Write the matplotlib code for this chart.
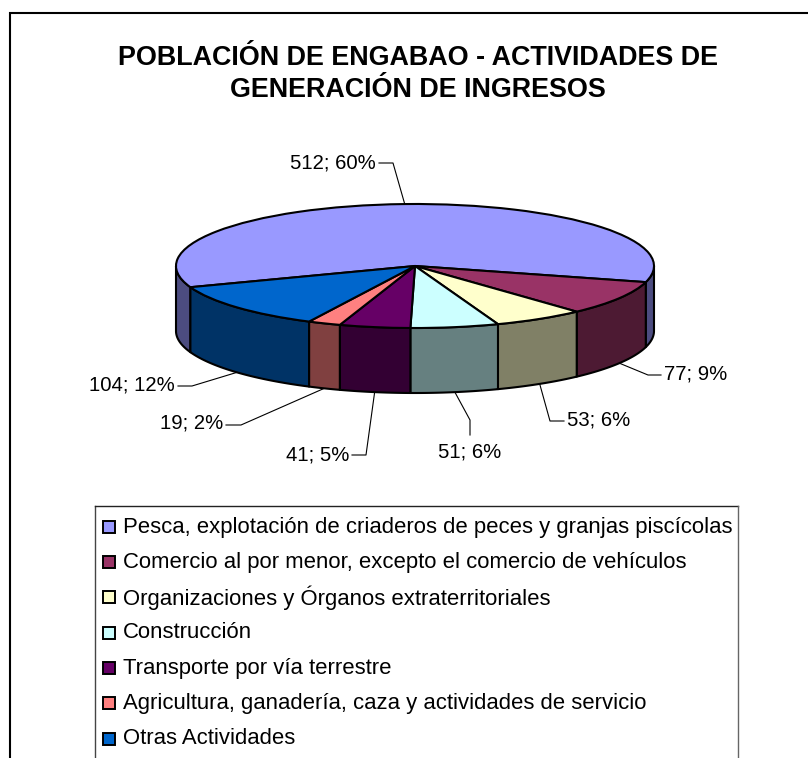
import numpy as np
import matplotlib
matplotlib.use("Agg")
import matplotlib.pyplot as plt
from matplotlib.patches import Rectangle

title_text = "POBLACIÓN DE ENGABAO - ACTIVIDADES DE\nGENERACIÓN DE INGRESOS"
categories = [
    "Pesca, explotación de criaderos de peces y granjas piscícolas",
    "Comercio al por menor, excepto el comercio de vehículos",
    "Organizaciones y Órganos extraterritoriales",
    "Construcción",
    "Transporte por vía terrestre",
    "Agricultura, ganadería, caza y actividades de servicio",
    "Otras Actividades",
]
values = [512, 77, 53, 51, 41, 19, 104]
percents = [60, 9, 6, 6, 5, 2, 12]
top_colors = ["#9999FF", "#993366", "#FFFFCC", "#CCFFFF", "#660066", "#FF8080", "#0066CC"]
side_colors = ["#4C4C80", "#4D1A33", "#808066", "#668080", "#330033", "#804040", "#003366"]

W, H = 808, 758
CX, CY, RX, RY, DEPTH = 415, 266, 239, 62, 65
START = 200  # degrees, counter-clockwise from +x, slices run clockwise
FONT = ["Liberation Sans", "DejaVu Sans"]

# layout of the data-label leaders: (elbow points, text anchor x, text y, ha)
leader_layout = [
    ([(393, 163), (379, 163)], 376, 163, "right"),
    ([(648, 375), (661, 375)], 664, 374, "left"),
    ([(550, 421), (564, 421)], 567, 420, "left"),
    ([(470, 420), (470, 435)], 470, 452, "center"),
    ([(366, 455), (352, 455)], 349, 455, "right"),
    ([(241, 425), (226, 425)], 223, 423, "right"),
    ([(192, 386), (178, 386)], 175, 385, "right"),
]

fig = plt.figure(figsize=(W / 100, H / 100), dpi=100)
bg = fig.add_axes([0, 0, 1, 1])
bg.set_xlim(0, W)
bg.set_ylim(H, 0)
bg.axis("off")

# chart frame: open on the right and at the bottom, where the picture crops it
bg.plot([10, 10, W], [H, 13, 13], color="black", lw=1.5, solid_joinstyle="miter", zorder=1)

# pie axes: unit circle maps to the flattened ellipse
pie_ax = fig.add_axes([(CX - RX) / W, 1 - (CY + RY) / H, 2 * RX / W, 2 * RY / H])
pie_ax.patch.set_alpha(0)

fractions = np.array(values, dtype=float) / sum(values)
edges = START - np.concatenate([[0], np.cumsum(fractions) * 360])
dz = DEPTH / RY

# sides (only the part of the rim that faces the viewer)
for i, (a0, a1) in enumerate(zip(edges[:-1], edges[1:])):
    for shift in (0, 360, -360):
        hi = min(a0 + shift, 360)
        lo = max(a1 + shift, 180)
        if hi <= lo:
            continue
        t = np.radians(np.linspace(lo, hi, 80))
        xs = np.cos(t)
        ys = np.sin(t)
        pie_ax.fill(np.r_[xs, xs[::-1]], np.r_[ys, ys[::-1] - dz],
                    facecolor=side_colors[i], edgecolor="black", lw=1.5,
                    joinstyle="round", clip_on=False, zorder=1)

wedges, _ = pie_ax.pie(values, colors=top_colors, startangle=START, counterclock=False,
                       radius=1, wedgeprops=dict(edgecolor="black", lw=1.5, joinstyle="round"))
for w in wedges:
    w.set_clip_on(False)
    w.set_zorder(2)
pie_ax.set_aspect("auto")
pie_ax.set_xlim(-1, 1)
pie_ax.set_ylim(-1, 1)
pie_ax.axis("off")

# title
bg.text(417.5, 74, title_text, ha="center", va="center", fontsize=19.4, fontweight="bold",
        family=FONT, color="black", linespacing=1.33, zorder=5)

# data labels with leaders
mids = (edges[:-1] + edges[1:]) / 2
for i, (pts, tx, ty, ha) in enumerate(leader_layout):
    m = np.radians(mids[i])
    sx = CX + RX * np.cos(m)
    sy = CY - RY * np.sin(m) + (DEPTH if np.sin(m) < 0 else 0)
    px = [sx] + [p[0] for p in pts]
    py = [sy] + [p[1] for p in pts]
    bg.plot(px, py, color="black", lw=0.8, zorder=6)
    bg.text(tx, ty, f"{values[i]}; {percents[i]}%", ha=ha, va="center",
            fontsize=14.6, family=FONT, color="black", zorder=6)

# legend
bg.plot([95, 95], [H, 506], color="#444444", lw=1, zorder=3)
bg.plot([95, 738], [506, 506], color="#222222", lw=1, zorder=3)
bg.plot([738, 738], [506, H], color="#666666", lw=1, zorder=3)
row_y = np.linspace(526, 738, len(categories))
for y, name, c in zip(row_y, categories, top_colors):
    bg.add_patch(Rectangle((103, y - 5.5), 12, 12, facecolor=c, edgecolor="black", lw=1.4, zorder=4))
    bg.text(123, y + 1, name, ha="left", va="center", fontsize=15.95, family=FONT,
            color="black", zorder=4)

fig.savefig("out.png", dpi=100)
